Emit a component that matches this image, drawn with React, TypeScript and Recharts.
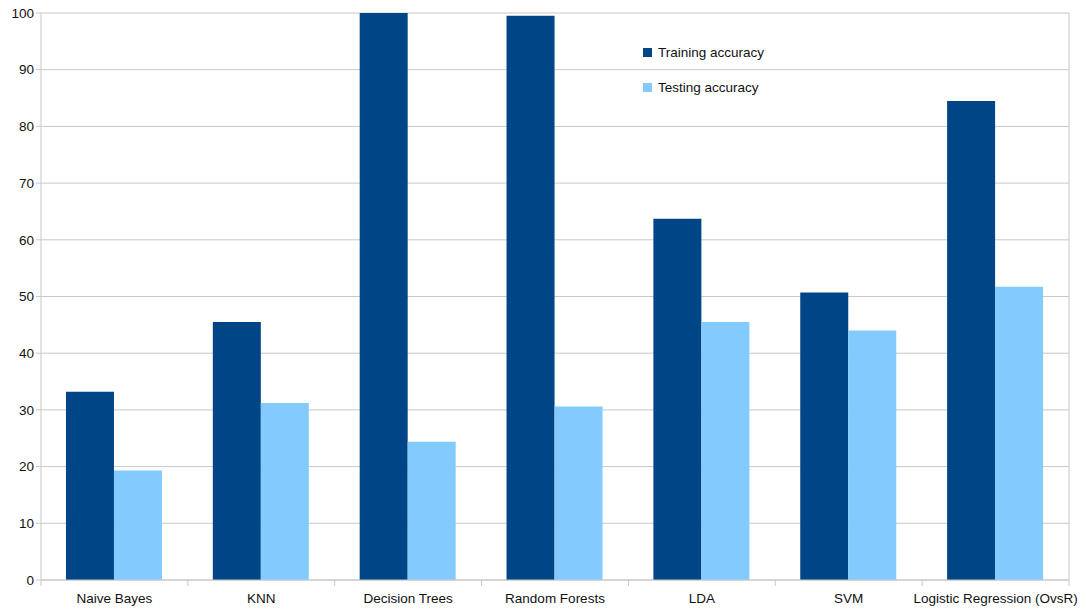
import React from 'react';
import {
    BarChart,
    Bar,
    XAxis,
    YAxis,
    CartesianGrid,
} from 'recharts';

const categories = ['Naive Bayes', 'KNN', 'Decision Trees', 'Random Forests', 'LDA', 'SVM', 'Logistic Regression (OvsR)'];
const trainingAccuracy = [33.2, 45.5, 100, 99.5, 63.7, 50.7, 84.5];
const testingAccuracy = [19.3, 31.2, 24.4, 30.6, 45.5, 44.0, 51.7];
const yTicks = [0, 10, 20, 30, 40, 50, 60, 70, 80, 90, 100];

const TRAIN_COLOR = '#004586';
const TEST_COLOR = '#83caff';
const GRID = '#c8c8c8';
const FONT = '"Liberation Sans", Arial, sans-serif';

const data = categories.map((name, i) => ({
    name,
    training: trainingAccuracy[i],
    testing: testingAccuracy[i],
}));

const WIDTH = 1086;
const HEIGHT = 612;
const PLOT_LEFT = 41;
const PLOT_RIGHT = 17;
const BAND = (WIDTH - PLOT_LEFT - PLOT_RIGHT) / categories.length;

function CategoryTick(props: any) {
    const { x, y, payload, index } = props;
    const left = x - BAND / 2;
    return (
        <g>
            <line x1={left} y1={y - 8} x2={left} y2={y - 2} stroke={GRID} />
            {index === categories.length - 1 && (
                <line x1={left + BAND} y1={y - 8} x2={left + BAND} y2={y - 2} stroke={GRID} />
            )}
            <text x={x} y={y + 15} textAnchor="middle" fontSize={13.5} fill="#111" fontFamily={FONT}>
                {payload.value}
            </text>
        </g>
    );
}

function LegendBox() {
    const items = [
        { label: 'Training accuracy', color: TRAIN_COLOR },
        { label: 'Testing accuracy', color: TEST_COLOR },
    ];
    return (
        <div style={{ position: 'absolute', left: 643, top: 43, fontFamily: FONT, fontSize: 13.5, color: '#111' }}>
            {items.map((it, i) => (
                <div key={it.label} style={{ display: 'flex', alignItems: 'center', height: 18, marginTop: i === 0 ? 0 : 17 }}>
                    <span style={{ width: 9, height: 9, background: it.color, display: 'inline-block', marginRight: 6 }} />
                    <span>{it.label}</span>
                </div>
            ))}
        </div>
    );
}

export default function App() {
    return (
        <div style={{ position: 'absolute', left: 0, top: 0, width: WIDTH, height: HEIGHT, background: '#fff' }}>
            <BarChart
                width={WIDTH}
                height={HEIGHT}
                data={data}
                margin={{ top: 13, right: 0, left: 0, bottom: 0 }}
                barCategoryGap="17%"
                barGap={0}
            >
                <CartesianGrid vertical={false} stroke={GRID} yAxisId="left" />
                <XAxis
                    dataKey="name"
                    height={32}
                    axisLine={{ stroke: GRID }}
                    tickLine={false}
                    tick={<CategoryTick />}
                    interval={0}
                />
                <YAxis
                    yAxisId="left"
                    width={PLOT_LEFT}
                    domain={[0, 100]}
                    ticks={yTicks}
                    axisLine={{ stroke: GRID }}
                    tickLine={{ stroke: GRID }}
                    tickSize={5}
                    tick={{ fontSize: 13.5, fill: '#111', fontFamily: FONT }}
                />
                <YAxis
                    yAxisId="right"
                    orientation="right"
                    width={PLOT_RIGHT}
                    domain={[0, 100]}
                    tick={false}
                    tickLine={false}
                    axisLine={{ stroke: GRID }}
                />
                <Bar yAxisId="left" dataKey="training" name="Training accuracy" fill={TRAIN_COLOR} isAnimationActive={false} />
                <Bar yAxisId="left" dataKey="testing" name="Testing accuracy" fill={TEST_COLOR} isAnimationActive={false} />
            </BarChart>
            <LegendBox />
        </div>
    );
}
